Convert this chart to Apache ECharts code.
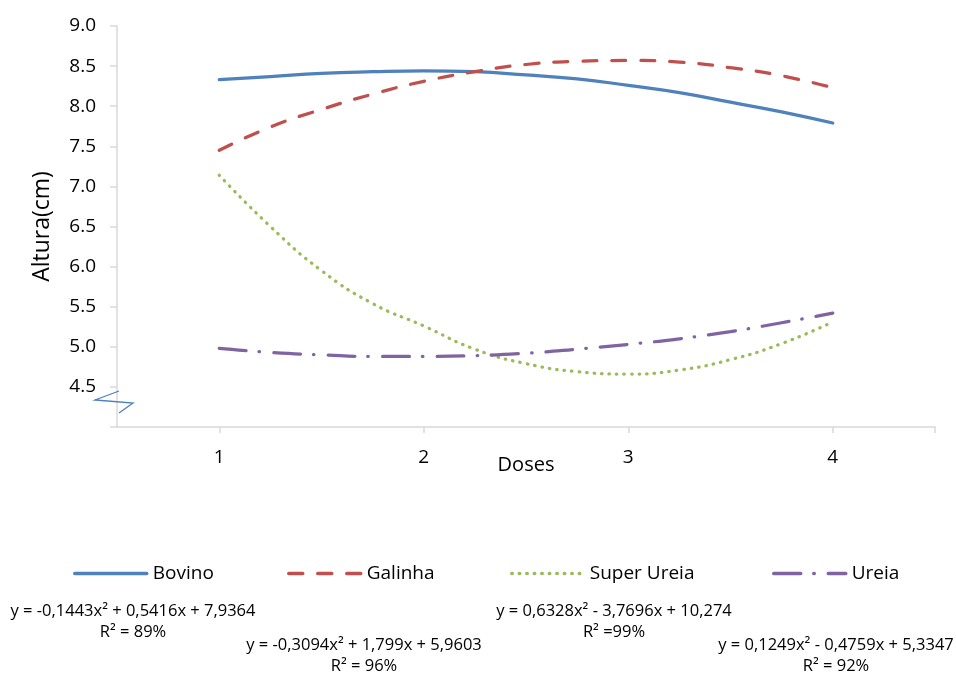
<!DOCTYPE html>
<html><head><meta charset="utf-8">
<script src="https://cdn.jsdelivr.net/npm/echarts@6/dist/echarts.min.js"></script>
<style>html,body{margin:0;padding:0;background:#fff}#c{width:956px;height:674px}</style>
</head><body><div id="c"></div>
<script>
// Dose positions (trend curves sampled along x)
const doses = [1, 1.25, 1.5, 1.75, 2, 2.25, 2.5, 2.75, 3, 3.25, 3.5, 3.75, 4];
const doseLabels = [1, 2, 3, 4];
const yTicks = [4.5, 5.0, 5.5, 6.0, 6.5, 7.0, 7.5, 8.0, 8.5, 9.0];
// Values
const bovino      = [8.33, 8.37, 8.41, 8.43, 8.44, 8.43, 8.39, 8.34, 8.26, 8.17, 8.05, 7.93, 7.79];
const galinha     = [7.45, 7.74, 7.96, 8.15, 8.31, 8.43, 8.52, 8.56, 8.57, 8.55, 8.48, 8.38, 8.23];
const superUreia  = [7.14, 6.50, 5.95, 5.54, 5.26, 4.97, 4.79, 4.69, 4.66, 4.71, 4.84, 5.04, 5.31];
const ureia       = [4.98, 4.93, 4.90, 4.88, 4.88, 4.89, 4.92, 4.97, 5.03, 5.10, 5.19, 5.30, 5.42];
const seriesNames = ['Bovino', 'Galinha', 'Super Ureia', 'Ureia'];
const equations = ['y = -0,1443x² + 0,5416x + 7,9364', 'y = -0,3094x² + 1,799x + 5,9603', 'y = 0,6328x² - 3,7696x + 10,274', 'y = 0,1249x² - 0,4759x + 5,3347'];
const r2 = ['R² = 89%', 'R² = 96%', 'R² =99%', 'R² = 92%'];

const FONT = '"Open Sans", "Liberation Sans", sans-serif';
const pair = arr => doses.map((d, i) => [d, arr[i]]);
const colors = ['#4F81BD', '#C0504D', '#9BBB59', '#8064A2'];
const dashes = ['solid', [14, 15], [0.5, 7], [27, 13, 0.5, 14]];
const allData = [bovino, galinha, superUreia, ureia];

const chart = echarts.init(document.getElementById('c'));
const legendPos = [[68, 559], [282, 559], [505, 559], [767, 559]];
const eqPos = [[133, 611, 632], [364, 645, 666], [614, 611, 632], [836, 645, 666]];

const option = {
  animation: false,
  textStyle: { fontFamily: FONT },
  grid: { left: 117, right: 21, top: 26, bottom: 247 },
  xAxis: {
    type: 'value', min: 0.5, max: 4.5,
    name: 'Doses', nameLocation: 'middle', nameGap: 28, nameMoveOverlap: false,
    nameTextStyle: { fontSize: 20, color: '#000', fontFamily: FONT },
    axisLine: { show: true, lineStyle: { color: '#d9d9d9', width: 1.5 } },
    axisTick: { show: true, length: 6, lineStyle: { color: '#d9d9d9', width: 1.5 }, customValues: doseLabels.concat([4.5]) },
    axisLabel: { color: '#000', fontSize: 19, margin: 21, fontFamily: FONT, customValues: doseLabels, formatter: v => String(v) },
    splitLine: { show: false }
  },
  yAxis: {
    type: 'value', min: 4, max: 9, interval: 0.5,
    name: 'Altura(cm)', nameLocation: 'middle', nameGap: 63, nameRotate: 90, nameMoveOverlap: false,
    nameTextStyle: { fontSize: 23, color: '#000', fontFamily: FONT },
    axisLine: { show: true, lineStyle: { color: '#d9d9d9', width: 1.5 } },
    axisTick: { show: true, length: 7, lineStyle: { color: '#d9d9d9', width: 1.5 } },
    axisLabel: { color: '#000', fontSize: 19, margin: 21, fontFamily: FONT,
      formatter: v => (yTicks.some(t => Math.abs(t - v) < 1e-9) ? v.toFixed(1) : '') },
    splitLine: { show: false }
  },
  legend: seriesNames.map((n, i) => ({
    data: [n], left: legendPos[i][0], top: legendPos[i][1],
    itemWidth: 72, itemHeight: 14, itemGap: 8,
    itemStyle: { opacity: 0 },
    lineStyle: { width: 3.5, cap: 'round' },
    textStyle: { fontSize: 19, color: '#000', fontFamily: FONT, padding: [0, 0, 0, 1] }
  })),
  series: seriesNames.map((n, i) => ({
    name: n, type: 'line', data: pair(allData[i]), smooth: 0.5, symbol: 'none',
    lineStyle: { color: colors[i], width: 3.25, type: dashes[i], cap: 'round' },
    itemStyle: { color: colors[i] }
  })),
  graphic: [
    { type: 'polyline', shape: { points: [[119, 391], [95, 400], [133, 403], [119, 413]] },
      style: { stroke: '#4F81BD', lineWidth: 1.3, fill: null }, z: 10 }
  ].concat(equations.map((e, i) => ({
    type: 'text', x: eqPos[i][0], y: eqPos[i][1],
    style: { text: e, fontSize: 16.5, fill: '#000', fontFamily: FONT, align: 'center', verticalAlign: 'middle' }
  }))).concat(r2.map((e, i) => ({
    type: 'text', x: eqPos[i][0], y: eqPos[i][2],
    style: { text: e, fontSize: 16.5, fill: '#000', fontFamily: FONT, align: 'center', verticalAlign: 'middle' }
  })))
};
chart.setOption(option);
</script></body></html>
